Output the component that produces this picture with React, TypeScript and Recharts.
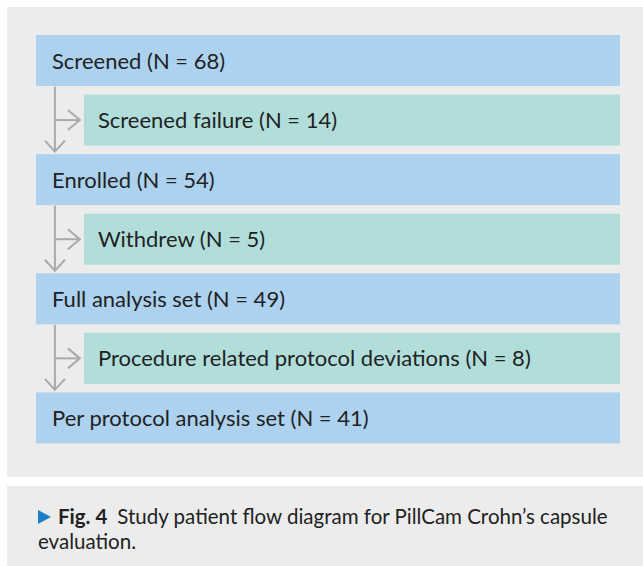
import React from 'react';
import { ComposedChart, Bar, XAxis, YAxis, Cell } from 'recharts';

// flow stages, top to bottom
const stageLabels = [
  'Screened',
  'Screened failure',
  'Enrolled',
  'Withdrew',
  'Full analysis set',
  'Procedure related protocol deviations',
  'Per protocol analysis set',
];
const stageCounts = [68, 14, 54, 5, 49, 8, 41];
// main = kept in the study, exit = dropped at that step
const stageKinds = ['main', 'exit', 'main', 'exit', 'main', 'exit', 'main'];

const MAIN_FILL = '#acd2f0';
const EXIT_FILL = '#b1dedb';
const ARROW = '#a9a9a9';
const FONT = 'Lato, "Noto Sans", sans-serif';
const INDENT = 8.2; // exit boxes start a bit to the right

const rows = stageLabels.map((label, i) => ({
  name: label,
  label: `${label} (N = ${stageCounts[i]})`,
  kind: stageKinds[i],
  span: stageKinds[i] === 'main' ? [0, 100] : [INDENT, 100],
}));

const FlowBox = (props: any) => {
  const { x, y, width, height, payload } = props;
  const isMain = payload.kind === 'main';
  const lineX = x - 29;
  const midY = y + height / 2;
  return (
    <g>
      <rect x={x} y={y} width={width} height={height} fill={isMain ? MAIN_FILL : EXIT_FILL} />
      {!isMain && (
        <g stroke={ARROW} strokeWidth={2} fill="none">
          <line x1={lineX} y1={y - 8} x2={lineX} y2={y + height + 6} />
          <polyline points={`${lineX - 10},${y + height - 5} ${lineX},${y + height + 6} ${lineX + 10},${y + height - 5}`} />
          <line x1={lineX} y1={midY} x2={x - 4} y2={midY} />
          <polyline points={`${x - 16},${midY - 10} ${x - 4},${midY} ${x - 16},${midY + 10}`} />
        </g>
      )}
      <text
        x={x + (isMain ? 16 : 14)}
        y={midY + 8}
        fontSize={22}
        fontFamily={FONT}
        fill="#222"
      >
        {payload.label}
      </text>
    </g>
  );
};

export default function App() {
  return (
    <div style={{ position: 'relative', width: 643, height: 566, background: '#fff' }}>
      <style>{`body{margin:0}`}</style>
      <div style={{ position: 'absolute', left: 7, top: 7, width: 636, height: 470, background: '#ebeceb' }} />
      <div style={{ position: 'absolute', left: 7, top: 486, width: 636, height: 80, background: '#ebeceb' }} />
      <div style={{ position: 'absolute', left: 0, top: 0 }}>
        <ComposedChart
          width={643}
          height={480}
          data={rows}
          layout="vertical"
          margin={{ top: 31, right: 23, bottom: 32, left: 36 }}
        >
          <XAxis type="number" domain={[0, 100]} hide />
          <YAxis type="category" dataKey="name" hide />
          <Bar dataKey="span" barSize={51} shape={<FlowBox />} isAnimationActive={false}>
            {rows.map((r) => (
              <Cell key={r.name} fill={r.kind === 'main' ? MAIN_FILL : EXIT_FILL} />
            ))}
          </Bar>
        </ComposedChart>
      </div>
      <div
        style={{
          position: 'absolute',
          left: 38,
          top: 504,
          width: 600,
          fontFamily: FONT,
          fontSize: 20.5,
          lineHeight: '25px',
          color: '#222',
        }}
      >
        <svg width={13} height={14} style={{ marginRight: 7, verticalAlign: 'baseline' }}>
          <polygon points="0,0 13,7 0,14" fill="#1a7fc8" />
        </svg>
        <b>Fig. 4</b>
        <span style={{ marginLeft: 10 }}>Study patient flow diagram for PillCam Crohn’s capsule</span>
        <br />
        <span>evaluation.</span>
      </div>
    </div>
  );
}
